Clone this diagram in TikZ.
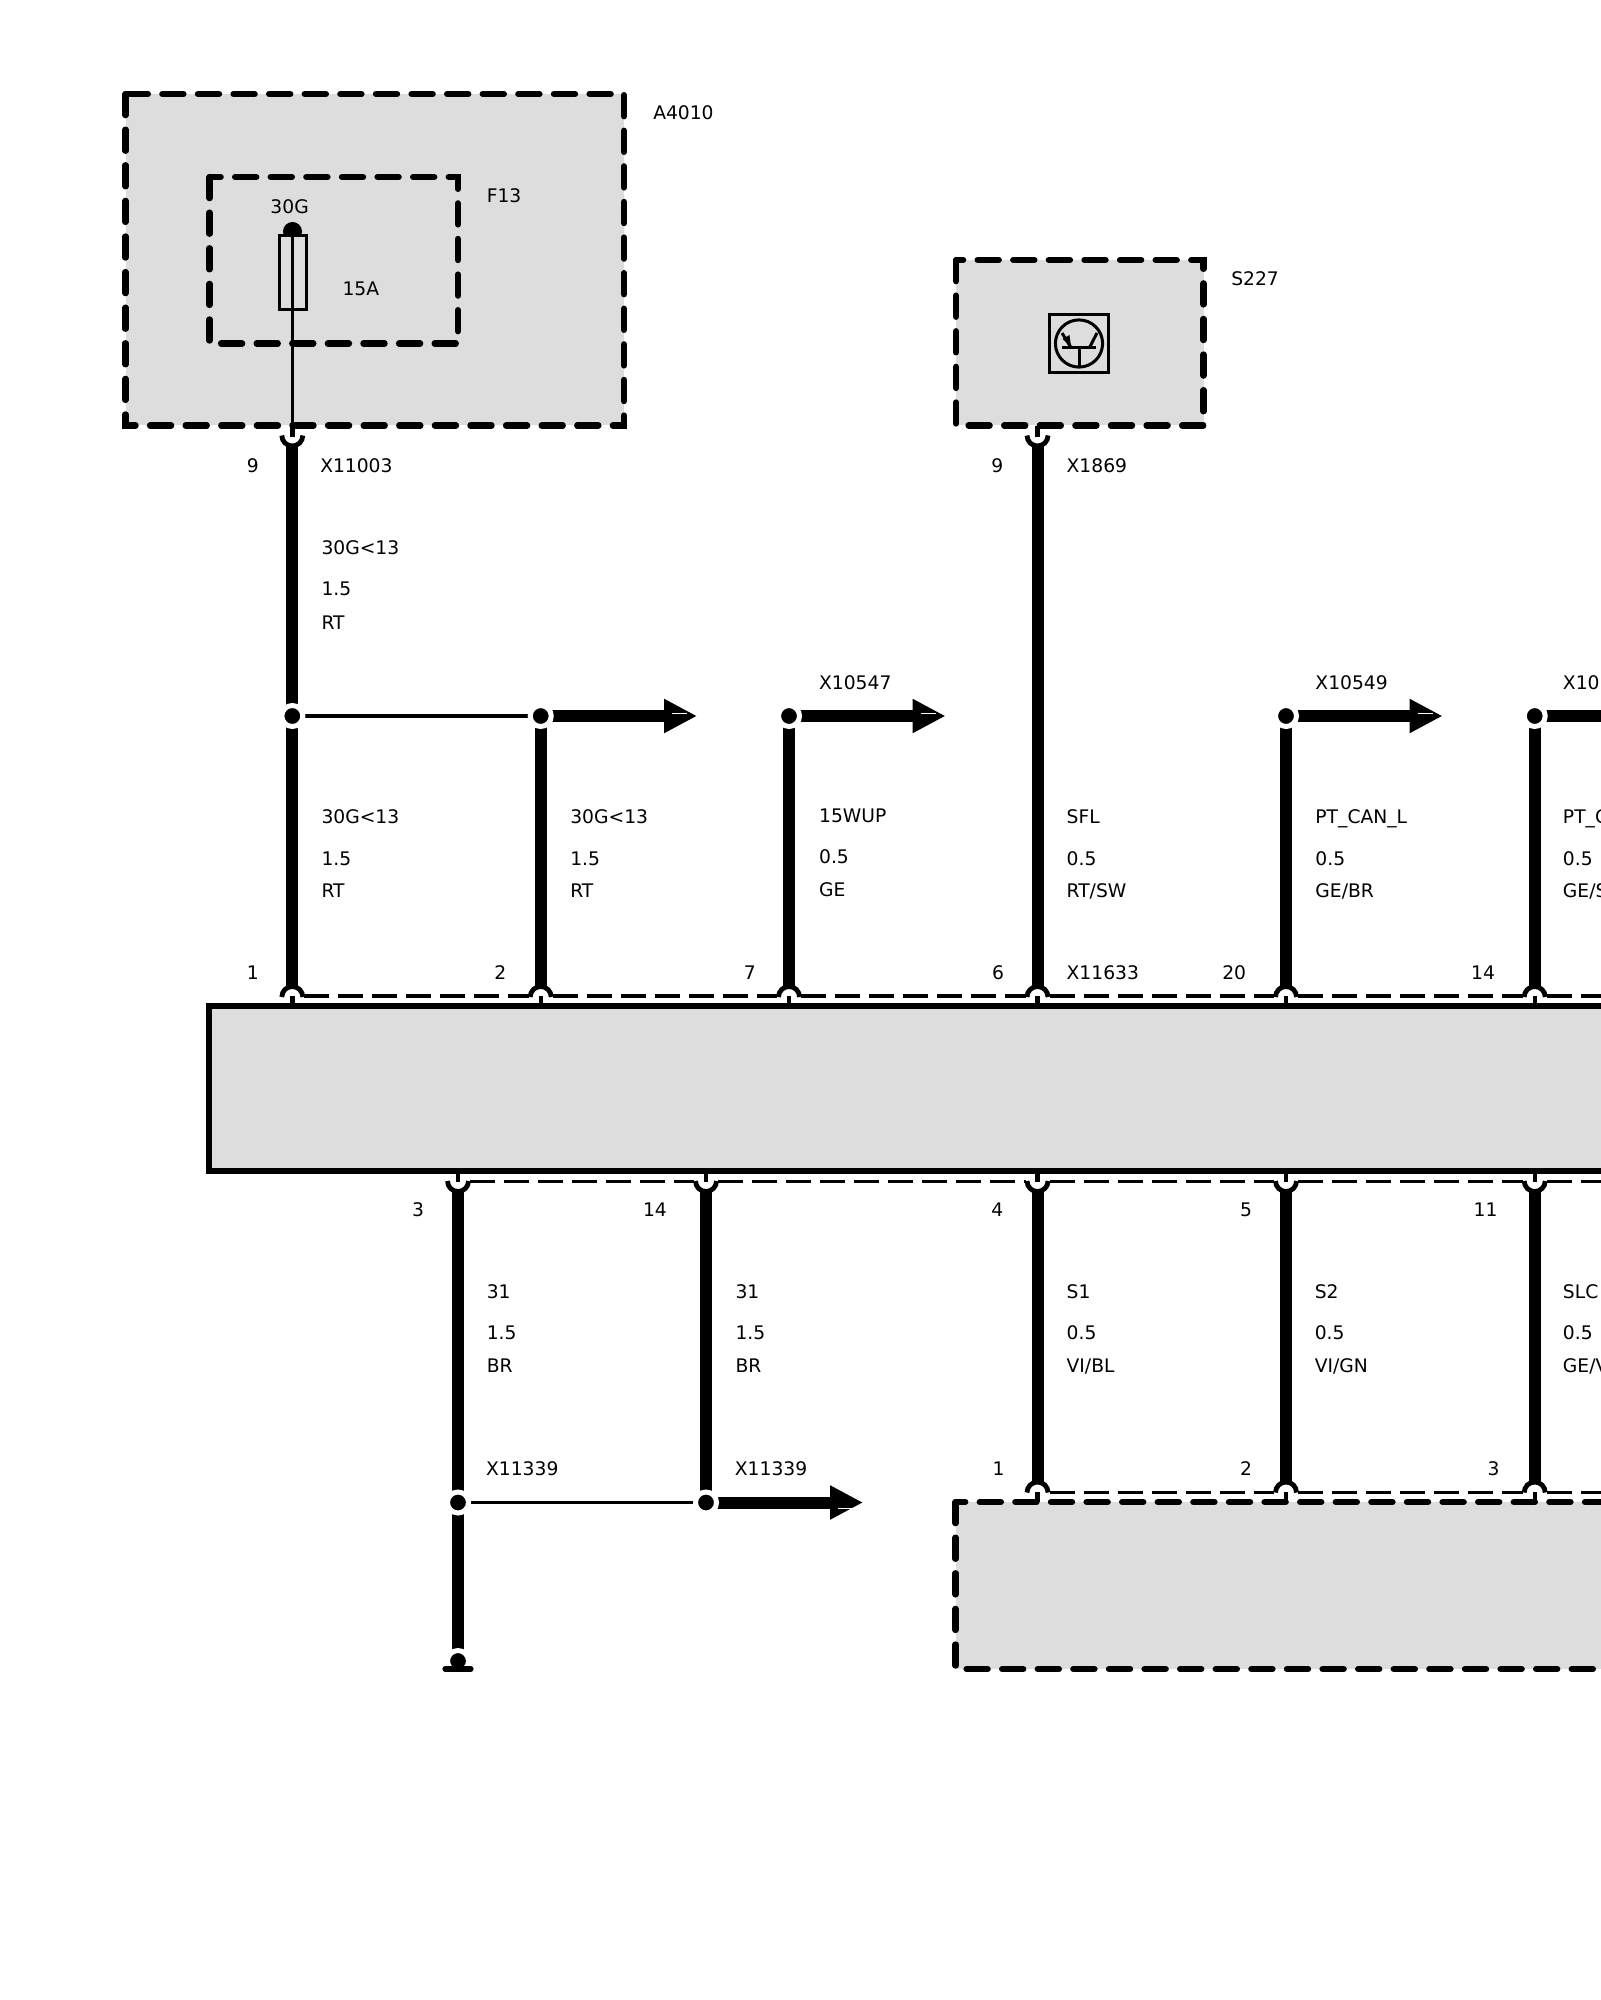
\documentclass[tikz,border=0pt]{standalone}
\usepackage{fontspec}
\setmainfont{DejaVu Sans}
\usetikzlibrary{arrows.meta}
\definecolor{boxgray}{HTML}{DDDDDD}
\tikzset{
  compbox/.style={fill=boxgray,draw=black,line width=3.1pt,line cap=round,dash pattern=on 10.6pt off 7.2pt},
  mainbox/.style={fill=boxgray,draw=black,line width=3.1pt,line join=miter},
  wire/.style={line width=6pt,line cap=butt},
  thinwire/.style={line width=1.7pt},
  stub/.style={line width=2.2pt},
  cup/.style={line width=2.4pt},
  connline/.style={line width=1.8pt,dash pattern=on 12.5pt off 4.5pt},
  outarrow/.style={line width=6pt,-{Triangle[length=16.5pt,width=16pt]}},
  sliver/.style={white,line width=0.4pt},
  jdot/.style={circle,fill=black,draw=white,line width=2.5pt,minimum size=10.5pt,inner sep=0pt,outer sep=0pt},
  lbl/.style={anchor=base west,inner sep=0pt,outer sep=0pt,font=\fontsize{9.35}{11}\selectfont,text=black},
  symline/.style={line width=1.5pt}
}
\newcommand{\lab}[4]{\node[lbl] (#1) at ({#2*1.2759},{#3*1.2759+6.9}) {#4};}
\begin{document}
\begin{tikzpicture}[x=0.5pt,y=-0.5pt]
\useasboundingbox (0,0) rectangle (1600,2000);
% boxes
\draw[compbox] (125.5,94) rectangle (624,425.5);
\draw[compbox] (209.5,177) rectangle (458,343.5);
\draw[compbox] (956,260) rectangle (1203.5,425.5);
\draw[mainbox] (209,1006) rectangle (1630,1171);
\draw[compbox] (955.5,1502) rectangle (1630,1669);
% named points
\foreach \n/\x in {1/292.3,2/540.7,3/789,4/1037.5,5/1286,6/1534.7}{
  \coordinate (ct\n) at (\x,987);
  \coordinate (j\n) at (\x,716);
}
\foreach \n/\x in {1/458,2/706,3/1037.5,4/1286,5/1534.7}{
  \coordinate (cb\n) at (\x,1191);
}
\foreach \n/\x in {3/1037.5,4/1286,5/1534.7}{
  \coordinate (cl\n) at (\x,1481);
}
\coordinate (k1) at (458,1502.5);
\coordinate (k2) at (706,1502.5);
\coordinate (gnd) at (458,1661);
\coordinate (cA) at (292.3,446);
\coordinate (cS) at (1037.5,446);
\coordinate (h2) at (697,716);
\coordinate (h3) at (945.5,716);
\coordinate (h5) at (1442.5,716);
\coordinate (h6) at (1630,716);
\coordinate (h7) at (863,1502.5);
% fuse
\coordinate (ft) at (292.5,231.5);
\fill (ft) circle[radius=4.75pt];
\draw[symline,fill=boxgray] (279,236) rectangle (306.5,310);
\draw[thinwire] (ft) -- (292.5,437);
\draw[line width=2.5pt] (292.5,426) -- (292.5,437);
\draw[line width=2.5pt] (1037.5,426) -- (1037.5,437);
% transistor
\draw[symline] (1049.5,314.5) rectangle (1108.5,373);
\draw[symline] (1079,343.5) circle[radius=11.8pt];
\draw[symline] (1062,347.5) -- (1096,347.5);
\draw[symline] (1079,347.5) -- (1079,367);
\draw[symline] (1089.5,347.5) -- (1097,333);
\draw[symline] (1062,333) -- (1071,347.5);
\fill (1071,346.5) -- (1062.5,339) -- (1069.5,335) -- cycle;
% wires
\draw[wire] (cA) -- (ct1);
\draw[wire] (cS) -- (ct4);
\foreach \n in {2,3,5,6}{ \draw[wire] (j\n) -- (ct\n); }
\draw[thinwire] (j1) -- (j2);
\draw[outarrow] (j2) -- (h2);
\draw[outarrow] (j3) -- (h3);
\draw[outarrow] (j5) -- (h5);
\draw[line width=6pt] (j6) -- (h6);
\foreach \n in {3,4,5}{ \draw[wire] (cb\n) -- (cl\n); }
\draw[wire] (cb1) -- (gnd);
\draw[wire] (cb2) -- (k2);
\draw[thinwire] (k1) -- (k2);
\draw[outarrow] (k2) -- (h7);
% arrow slivers
\foreach \t in {697,945.5,1442.5}{ \draw[sliver] (\t-25,713.5) -- (\t-10,713.5); }
\draw[sliver] (838,1508) -- (853,1508);
% junction dots
\foreach \n in {1,2,3,5,6}{ \node[jdot] (jd\n) at (j\n) {}; }
\node[jdot] (kd1) at (k1) {};
\node[jdot] (kd2) at (k2) {};
\node[jdot] (gd) at (gnd) {};
\draw[line width=2.6pt,line cap=round] (445,1669) -- (471,1669);
% upper cups of the wires coming from the components
\foreach \x in {292.3,1037.5}{
  \draw[cup] (\x-10.5,435.5) arc[start angle=180,end angle=360,radius=5.25pt];
}
% cups and dashed connector lines at top of main box
\foreach \x in {292.3,540.7,789,1037.5,1286,1534.7}{
  \draw[cup] (\x-10.5,997) arc[start angle=180,end angle=0,radius=5.25pt];
  \draw[stub] (\x,996) -- (\x,1006);
}
\foreach \a/\b in {292.3/540.7,540.7/789,789/1037.5,1037.5/1286,1286/1534.7,1534.7/1630}{
  \draw[connline] (\a+12,996) -- (\b-12,996);
}
% bottom of main box
\foreach \x in {458,706,1037.5,1286,1534.7}{
  \draw[cup] (\x-10.5,1181) arc[start angle=180,end angle=360,radius=5.25pt];
  \draw[stub] (\x,1171) -- (\x,1182);
}
\foreach \a/\b in {458/706,706/1037.5,1037.5/1286,1286/1534.7,1534.7/1630}{
  \draw[connline] (\a+12,1181.5) -- (\b-12,1181.5);
}
% top of lower box
\foreach \x in {1037.5,1286,1534.7}{
  \draw[cup] (\x-10.5,1492.5) arc[start angle=180,end angle=0,radius=5.25pt];
  \draw[stub] (\x,1492) -- (\x,1502);
}
\foreach \a/\b in {1037.5/1286,1286/1534.7,1534.7/1630}{
  \draw[connline] (\a+12,1492.5) -- (\b-12,1492.5);
}
% labels
\lab{a}{512}{88}{A4010}
\lab{b}{381.5}{153}{F13}
\lab{c}{212}{162}{30G}
\lab{d}{268.5}{226}{15A}
\lab{e}{193.5}{365}{9}
\lab{f}{251}{365}{X11003}
\lab{g}{252}{429}{30G<13}
\lab{h}{252}{461}{1.5}
\lab{i}{252}{488}{RT}
\lab{j}{965}{218}{S227}
\lab{k}{777}{365}{9}
\lab{l}{836}{365}{X1869}
\lab{m1}{642}{535}{X10547}
\lab{m2}{1031}{535}{X10549}
\lab{m3}{1225}{535}{X10}
\lab{n1a}{252}{640}{30G<13}
\lab{n1b}{252}{673}{1.5}
\lab{n1c}{252}{698}{RT}
\lab{n2a}{447}{640}{30G<13}
\lab{n2b}{447}{673}{1.5}
\lab{n2c}{447}{698}{RT}
\lab{n3a}{642}{639}{15WUP}
\lab{n3b}{642}{671}{0.5}
\lab{n3c}{642}{697}{GE}
\lab{n4a}{836}{640}{SFL}
\lab{n4b}{836}{673}{0.5}
\lab{n4c}{836}{698}{RT/SW}
\lab{n5a}{1031}{640}{PT\_CAN\_L}
\lab{n5b}{1031}{673}{0.5}
\lab{n5c}{1031}{698}{GE/BR}
\lab{n6a}{1225}{640}{PT\_C}
\lab{n6b}{1225}{673}{0.5}
\lab{n6c}{1225}{698}{GE/S}
\lab{p1}{193.5}{762}{1}
\lab{p2}{387.5}{762}{2}
\lab{p3}{583}{762}{7}
\lab{p4}{777.5}{762}{6}
\lab{p5}{836}{762}{X11633}
\lab{p6}{958}{762}{20}
\lab{p7}{1153}{762}{14}
\lab{q1}{323}{948}{3}
\lab{q2}{504}{948}{14}
\lab{q3}{777}{948}{4}
\lab{q4}{972}{948}{5}
\lab{q5}{1155}{948}{11}
\lab{r1a}{381.5}{1012.5}{31}
\lab{r1b}{381.5}{1044.5}{1.5}
\lab{r1c}{381.5}{1070}{BR}
\lab{r2a}{576.5}{1012.5}{31}
\lab{r2b}{576.5}{1044.5}{1.5}
\lab{r2c}{576.5}{1070}{BR}
\lab{r3a}{836}{1012.5}{S1}
\lab{r3b}{836}{1044.5}{0.5}
\lab{r3c}{836}{1070}{VI/BL}
\lab{r4a}{1030.5}{1012.5}{S2}
\lab{r4b}{1030.5}{1044.5}{0.5}
\lab{r4c}{1030.5}{1070}{VI/GN}
\lab{r5a}{1225}{1012.5}{SLC}
\lab{r5b}{1225}{1044.5}{0.5}
\lab{r5c}{1225}{1070}{GE/V}
\lab{s1}{381}{1151}{X11339}
\lab{s2}{576}{1151}{X11339}
\lab{t1}{778}{1151}{1}
\lab{t2}{972}{1151}{2}
\lab{t3}{1166}{1151}{3}
\end{tikzpicture}
\end{document}
